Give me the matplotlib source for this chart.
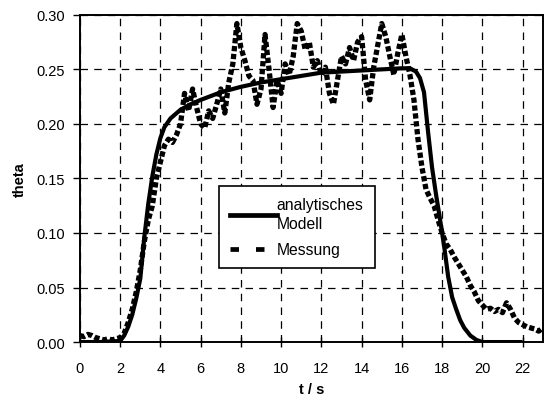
import numpy as np
import matplotlib.pyplot as plt
from matplotlib.lines import Line2D

plt.rcParams['font.family'] = ['Liberation Sans', 'DejaVu Sans']

# Messung: Abtastung alle 0.2 s von 0 bis 23 s
t_mess = np.arange(0, 23.01, 0.2)
theta_mess = [
    0.006, 0.005, 0.007, 0.006, 0.004, 0.003, 0.002, 0.003, 0.002, 0.003,
    0.004, 0.008, 0.018, 0.030, 0.046, 0.066, 0.092, 0.112, 0.125, 0.150,
    0.165, 0.180, 0.186, 0.183, 0.190, 0.200, 0.228, 0.212, 0.232, 0.215,
    0.200, 0.196, 0.212, 0.205, 0.218, 0.232, 0.210, 0.238, 0.255, 0.292,
    0.270, 0.258, 0.244, 0.240, 0.218, 0.232, 0.282, 0.250, 0.215, 0.240,
    0.228, 0.255, 0.245, 0.262, 0.292, 0.285, 0.268, 0.275, 0.252, 0.258,
    0.245, 0.252, 0.228, 0.218, 0.240, 0.262, 0.255, 0.270, 0.258, 0.275,
    0.280, 0.240, 0.222, 0.252, 0.272, 0.292, 0.280, 0.262, 0.245, 0.265,
    0.282, 0.262, 0.245, 0.222, 0.186, 0.160, 0.140, 0.132, 0.125, 0.112,
    0.100, 0.090, 0.085, 0.078, 0.072, 0.066, 0.060, 0.052, 0.046, 0.038,
    0.034, 0.030, 0.031, 0.028, 0.030, 0.027, 0.036, 0.030, 0.022, 0.018,
    0.016, 0.014, 0.013, 0.012, 0.010, 0.013,
]

# analytisches Modell
t_mod = [0, 1, 2.0, 2.2, 2.4, 2.6, 2.8, 3.0, 3.2, 3.4, 3.6, 3.8, 4.0, 4.2,
         4.5, 5.0, 5.5, 6.0, 7.0, 8.0, 9.0, 10, 11, 12, 13, 14, 15, 16,
         16.4, 16.7, 16.9, 17.1, 17.3, 17.5, 17.7, 17.9, 18.1, 18.3, 18.5,
         18.7, 18.9, 19.1, 19.4, 19.7, 20.0, 21, 22]
theta_mod = [0, 0, 0.001, 0.006, 0.014, 0.025, 0.040, 0.058, 0.096, 0.127,
             0.152, 0.172, 0.187, 0.197, 0.205, 0.213, 0.218, 0.222, 0.229,
             0.234, 0.238, 0.241, 0.244, 0.247, 0.248, 0.249, 0.250, 0.251,
             0.251, 0.248, 0.242, 0.229, 0.193, 0.160, 0.135, 0.112, 0.088,
             0.060, 0.041, 0.030, 0.020, 0.013, 0.006, 0.002, 0.0, 0.0, 0.0]

fig = plt.figure(figsize=(5.51, 4.06), dpi=100)
ax = fig.add_axes([0.145, 0.155, 0.840, 0.806])

ax.plot(t_mod, theta_mod, color='black', lw=3.0, solid_capstyle='butt')
ax.plot(t_mess, theta_mess, color='black', lw=3.8, dashes=(1.0, 0.5))

ax.set_xlim(0, 23)
ax.set_ylim(0, 0.30)
ax.set_xticks(range(0, 23, 2))
ax.set_yticks(np.arange(0, 0.301, 0.05))
ax.set_yticklabels([f"{v:.2f}" for v in np.arange(0, 0.301, 0.05)])
ax.tick_params(axis='x', direction='inout', length=7, width=1, pad=10,
               labelsize=10.5, colors='black')
ax.tick_params(axis='y', direction='out', length=5, width=1, pad=5.5,
               labelsize=10.5, colors='black')
ax.grid(True, color='black', linestyle=(0, (6, 5)), linewidth=0.9)
for s in ax.spines.values():
    s.set_linewidth(1.4)

ax.set_xlabel('t / s', fontsize=10.5, fontweight='bold', labelpad=5)
ax.set_ylabel('theta', fontsize=10.5, fontweight='bold', labelpad=7)

h1 = Line2D([], [], color='black', lw=3.4)
h2 = Line2D([], [], color='black', lw=3.4, dashes=(1.8, 3.6))
leg = ax.legend([h1, h2], ['analytisches\nModell', 'Messung'],
                loc='upper left', bbox_to_anchor=(0.30, 0.477), borderaxespad=0,
                fontsize=11.3, fancybox=False, framealpha=1, edgecolor='black',
                handlelength=3.0, handletextpad=0.0, borderpad=0.7,
                labelspacing=0.7)
for txt in leg.get_texts():
    txt.set_linespacing(1.35)
leg.get_frame().set_linewidth(1.2)

fig.savefig('out.png', dpi=100)
